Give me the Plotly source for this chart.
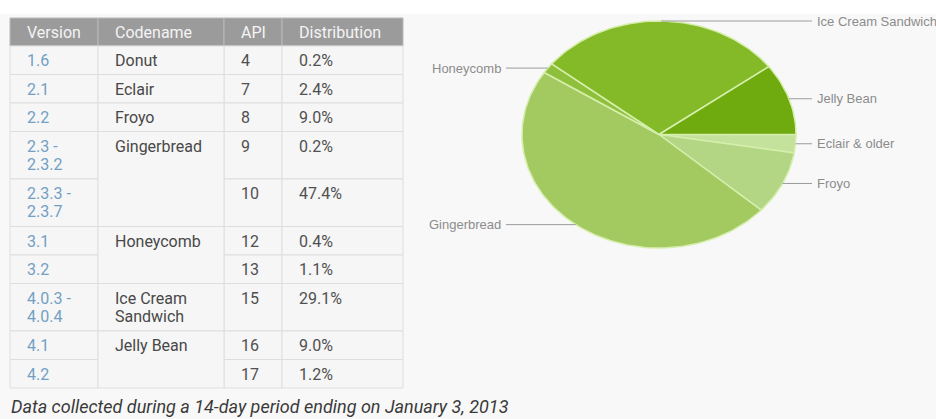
import math
import plotly.graph_objects as go

# ---------------- data ----------------
headers = ["Version", "Codename", "API", "Distribution"]
versions = ["1.6", "2.1", "2.2", "2.3 -\n2.3.2", "2.3.3 -\n2.3.7", "3.1", "3.2",
            "4.0.3 -\n4.0.4", "4.1", "4.2"]
codenames = ["Donut", "Eclair", "Froyo", "Gingerbread", "Gingerbread", "Honeycomb",
             "Honeycomb", "Ice Cream\nSandwich", "Jelly Bean", "Jelly Bean"]
api_levels = [4, 7, 8, 9, 10, 12, 13, 15, 16, 17]
distribution = [0.2, 2.4, 9.0, 0.2, 47.4, 0.4, 1.1, 29.1, 9.0, 1.2]

pie_labels = ["Eclair & older", "Froyo", "Gingerbread", "Honeycomb",
              "Ice Cream Sandwich", "Jelly Bean"]
pie_values = [2.6, 9.0, 47.6, 1.5, 29.1, 10.2]
pie_colors = ["#c4e29c", "#b2d683", "#a2ca60", "#8fc03c", "#84ba28", "#6fab0e"]

caption = "Data collected during a 14-day period ending on January 3, 2013"

# ---------------- layout constants ----------------
W, H = 936, 419
BG = "#f8f8f8"
col_edges = [10, 98, 224, 282, 403]
table_top = 18
header_h = 28
row_h1 = 28.5          # single-line row
row_extra = 19         # extra height per additional line
line_step = 18
pad_x = 15
first_line = 14.5
grid = "#dedede"

cx, cy, rx, ry = 659, 134.5, 137, 113.5

fig = go.Figure()
shapes = []
ann = []

TABLE_FONT = "Roboto, 'Open Sans', sans-serif"

# white strip along the top of the page
shapes.append(dict(type="rect", xref="paper", yref="y", x0=0, x1=1, y0=0, y1=14,
                   fillcolor="#ffffff", line=dict(width=0), layer="below"))

# ---------------- table ----------------
for j, h in enumerate(headers):
    x0, x1 = col_edges[j], col_edges[j + 1]
    shapes.append(dict(type="rect", xref="x", yref="y", x0=x0, x1=x1,
                       y0=table_top, y1=table_top + header_h,
                       fillcolor="#9b9b9b", line=dict(color="#b9b9b9", width=1),
                       layer="below"))
    ann.append(dict(x=x0 + pad_x, y=table_top + header_h / 2 + 0.5, text=h,
                    xanchor="left", yanchor="middle", showarrow=False,
                    font=dict(family=TABLE_FONT, size=16, color="#f4f4f4")))

row_tops = []
y = table_top + header_h
for i in range(len(versions)):
    nlines = max(len(versions[i].split("\n")), len(codenames[i].split("\n")))
    h = row_h1 + row_extra * (nlines - 1)
    row_tops.append((y, y + h))
    y += h


def add_text(xl, top, text, color):
    for k, part in enumerate(str(text).split("\n")):
        ann.append(dict(x=xl + pad_x, y=top + first_line + k * line_step, text=part,
                        xanchor="left", yanchor="middle", showarrow=False,
                        font=dict(family=TABLE_FONT, size=16, color=color)))


cols_simple = [(0, versions, "#72a0c4"), (2, api_levels, "#505050"),
               (3, [f"{d:.1f}%" for d in distribution], "#505050")]
for j, values, color in cols_simple:
    x0, x1 = col_edges[j], col_edges[j + 1]
    for i, v in enumerate(values):
        t0, t1 = row_tops[i]
        shapes.append(dict(type="rect", xref="x", yref="y", x0=x0, x1=x1, y0=t0, y1=t1,
                           fillcolor="#f6f6f6", line=dict(color=grid, width=1),
                           layer="below"))
        add_text(x0, t0, v, color)

# codename column with merged cells
i = 0
while i < len(codenames):
    k = i
    while k + 1 < len(codenames) and codenames[k + 1] == codenames[i]:
        k += 1
    t0, t1 = row_tops[i][0], row_tops[k][1]
    shapes.append(dict(type="rect", xref="x", yref="y", x0=col_edges[1], x1=col_edges[2],
                       y0=t0, y1=t1, fillcolor="#f6f6f6", line=dict(color=grid, width=1),
                       layer="below"))
    add_text(col_edges[1], t0, codenames[i], "#484848")
    i = k + 1

# caption
ann.append(dict(x=9, y=406, text=f"<i>{caption}</i>", xanchor="left", yanchor="middle",
                showarrow=False, font=dict(family=TABLE_FONT, size=18, color="#3a3a3a")))

# ---------------- pie (elliptical, as drawn in reference) ----------------
total = sum(pie_values)
cum = 0.0
lx, ly = [], []
for lab, val, col in zip(pie_labels, pie_values, pie_colors):
    a0 = -cum / total * 2 * math.pi
    a1 = -(cum + val) / total * 2 * math.pi
    n = max(3, int(abs(a1 - a0) * 180 / math.pi / 1.5))
    xs, ys = [cx], [cy]
    for s in range(n + 1):
        a = a0 + (a1 - a0) * s / n
        xs.append(cx + rx * math.cos(a))
        ys.append(cy - ry * math.sin(a))
    xs.append(cx)
    ys.append(cy)
    fig.add_trace(go.Scatter(x=xs, y=ys, mode="lines", fill="toself", fillcolor=col,
                             line=dict(color="#d6eeac", width=1.5), hoverinfo="text",
                             text=f"{lab}: {val}%", name=lab, showlegend=False))
    am = (a0 + a1) / 2
    px, py = cx + rx * math.cos(am), cy - ry * math.sin(am)
    if math.cos(am) >= 0:
        lx += [px, 812, None]
        ly += [py, py, None]
        ann.append(dict(x=815, y=py, text=lab, xanchor="left", yanchor="middle",
                        showarrow=False,
                        font=dict(family="Liberation Sans, Arial, sans-serif", size=13,
                                  color="#8c8c8c")))
    else:
        lx += [px, 506, None]
        ly += [py, py, None]
        ann.append(dict(x=503, y=py, text=lab, xanchor="right", yanchor="middle",
                        showarrow=False,
                        font=dict(family="Liberation Sans, Arial, sans-serif", size=13,
                                  color="#8c8c8c")))
    cum += val

fig.add_trace(go.Scatter(x=lx, y=ly, mode="lines", line=dict(color="#9c9c9c", width=1),
                         hoverinfo="skip", showlegend=False))

fig.update_layout(
    width=W, height=H, margin=dict(l=0, r=0, t=0, b=0),
    paper_bgcolor=BG, plot_bgcolor=BG, showlegend=False,
    xaxis=dict(range=[0, W], visible=False, fixedrange=True),
    yaxis=dict(range=[H, 0], visible=False, fixedrange=True),
    shapes=shapes, annotations=ann,
)

fig.write_html("out.html")
